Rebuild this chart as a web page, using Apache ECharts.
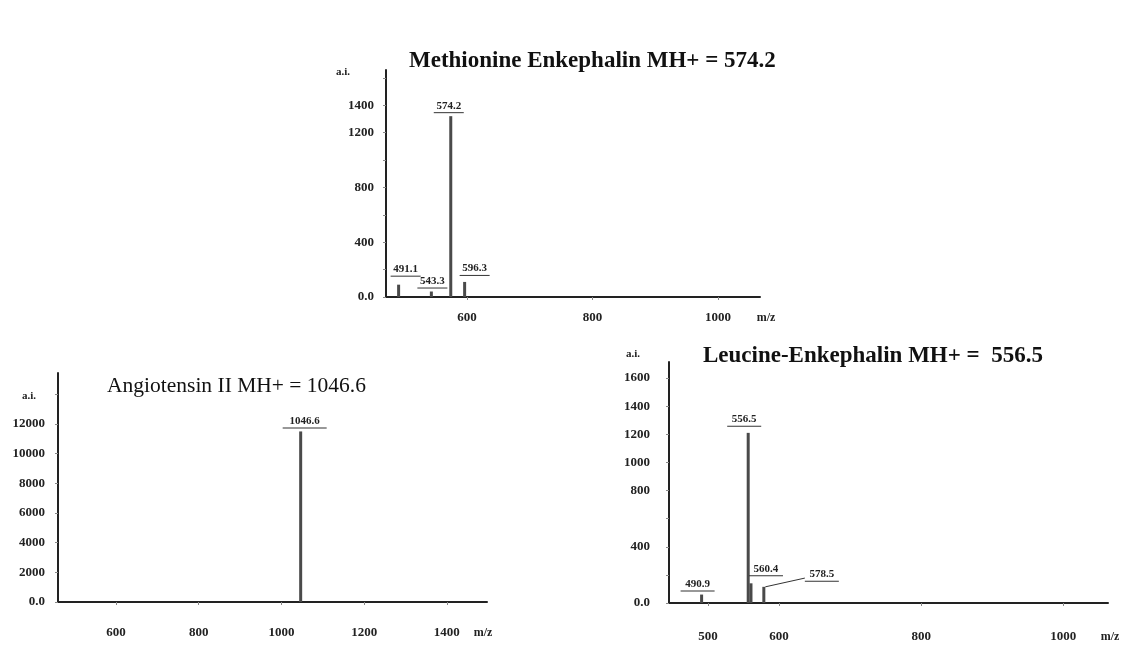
<!DOCTYPE html>
<html>
<head>
<meta charset="utf-8">
<script src="https://cdn.jsdelivr.net/npm/echarts@6/dist/echarts.min.js"></script>
<style>
html,body{margin:0;padding:0;background:#fff;}
#chart{width:1138px;height:645px;}
</style>
</head>
<body>
<div id="chart"></div>
<script>
// ---- Data ----
const metTitle = 'Methionine Enkephalin MH+ = 574.2';
const metMz = [491.1, 543.3, 574.2, 596.3];
const metInt = [90, 40, 1320, 110];
const metPeakLabels = ['491.1', '543.3', '574.2', '596.3'];
const metYTicks = [0, 400, 800, 1200, 1400];
const metXTicks = [600, 800, 1000];

const angTitle = 'Angiotensin II MH+ = 1046.6';
const angMz = [1046.6];
const angInt = [11500];
const angPeakLabels = ['1046.6'];
const angYTicks = [0, 2000, 4000, 6000, 8000, 10000, 12000];
const angXTicks = [600, 800, 1000, 1200, 1400];

const leuTitle = 'Leucine-Enkephalin MH+ =  556.5';
const leuMz = [490.9, 556.5, 560.4, 578.5];
const leuInt = [60, 1210, 140, 115];
const leuPeakLabels = ['490.9', '556.5', '560.4', '578.5'];
const leuYTicks = [0, 400, 800, 1000, 1200, 1400, 1600];
const leuXTicks = [500, 600, 800, 1000];

// ---- Styling ----
const FONT = '"Liberation Serif", "DejaVu Serif", serif';
const INK = '#222';
const PEAK = '#4a4a4a';

function yFmt(v) { return v === 0 ? '0.0' : String(v); }
function xFmt(v) { return String(v); }

function makeAxes(cfg) {
  const x = {
    type: 'value', gridIndex: cfg.g, min: cfg.xmin, max: cfg.xmax,
    name: 'm/z', nameLocation: 'end', nameGap: cfg.nameGapX,
    nameTextStyle: {fontFamily: FONT, fontSize: 12, fontWeight: 'bold', color: INK, verticalAlign: 'top', align: 'center', padding: [cfg.xLabelMargin + 1, 0, 0, 0]},
    axisLine: {show: true, lineStyle: {color: INK, width: 2}},
    axisTick: {show: true, length: 3, customValues: cfg.xTicks, lineStyle: {color: '#888'}},
    axisLabel: {customValues: cfg.xTicks, formatter: xFmt, margin: cfg.xLabelMargin, fontFamily: FONT, fontSize: 13, fontWeight: 'bold', color: INK},
    splitLine: {show: false}
  };
  const y = {
    type: 'value', gridIndex: cfg.g, min: 0, max: cfg.ymax,
    name: 'a.i.', nameLocation: 'end', nameGap: cfg.nameGapY,
    nameTextStyle: {fontFamily: FONT, fontSize: 11, fontWeight: 'bold', color: INK, align: 'right', verticalAlign: 'middle', padding: [0, cfg.namePadY, 0, 0]},
    axisLine: {show: true, lineStyle: {color: INK, width: 2}},
    axisTick: {show: true, length: 3, customValues: cfg.yMinor, lineStyle: {color: '#888'}},
    axisLabel: {customValues: cfg.yTicks, margin: cfg.yLabelMargin, formatter: yFmt, fontFamily: FONT, fontSize: 13, fontWeight: 'bold', color: INK},
    splitLine: {show: false}
  };
  return {x, y};
}

function peakSeries(idx, mz, inten, labels, underline, offsets, guideIdx) {
  return {
    type: 'bar', xAxisIndex: idx, yAxisIndex: idx, barWidth: 3,
    itemStyle: {color: PEAK},
    data: mz.map((m, i) => ({value: [m, inten[i]], labelLine: {show: i === guideIdx}})),
    label: {
      show: true, position: 'top', distance: 3,
      formatter: p => '{t|' + labels[p.dataIndex] + '}\n{u|}',
      rich: {
        t: {fontFamily: FONT, fontSize: 11, fontWeight: 'bold', color: INK, align: 'center', lineHeight: 13},
        u: {width: underline, height: 1, backgroundColor: '#333', align: 'center'}
      }
    },
    labelLine: {show: false, lineStyle: {color: '#333', width: 1}},
    labelLayout: p => ({dx: offsets[p.dataIndex][0], dy: offsets[p.dataIndex][1]})
  };
}

const a0 = makeAxes({g: 0, xmin: 471, xmax: 1067, ymax: 1657, xTicks: metXTicks, yTicks: metYTicks,
  yMinor: [0, 200, 400, 600, 800, 1000, 1200, 1400, 1600], xLabelMargin: 14, yLabelMargin: 12,
  nameGapX: 6, nameGapY: -2, namePadY: 36});
const a1 = makeAxes({g: 1, xmin: 460, xmax: 1497, ymax: 15440, xTicks: angXTicks, yTicks: angYTicks,
  yMinor: [0, 2000, 4000, 6000, 8000, 10000, 12000, 14000], xLabelMargin: 24, yLabelMargin: 13,
  nameGapX: -4, nameGapY: -23, namePadY: 22});
const a2 = makeAxes({g: 2, xmin: 445, xmax: 1063, ymax: 1714, xTicks: leuXTicks, yTicks: leuYTicks,
  yMinor: [0, 200, 400, 600, 800, 1000, 1200, 1400, 1600], xLabelMargin: 27, yLabelMargin: 19,
  nameGapX: 2, nameGapY: 8, namePadY: 29});

const option = {
  backgroundColor: '#fff',
  animation: false,
  title: [
    {text: metTitle, left: 404, top: 45, textStyle: {fontFamily: FONT, fontSize: 23, fontWeight: 'bold', color: '#111'}},
    {text: angTitle, left: 102, top: 370, textStyle: {fontFamily: FONT, fontSize: 21.5, fontWeight: 'normal', color: '#111'}},
    {text: leuTitle, left: 698, top: 340, textStyle: {fontFamily: FONT, fontSize: 23, fontWeight: 'bold', color: '#111'}}
  ],
  grid: [
    {left: 386, top: 70, width: 374, height: 227},
    {left: 58, top: 373, width: 429, height: 229},
    {left: 669, top: 362, width: 439, height: 241}
  ],
  xAxis: [a0.x, a1.x, a2.x],
  yAxis: [a0.y, a1.y, a2.y],
  series: [
    peakSeries(0, metMz, metInt, metPeakLabels, 30, [[7, -5], [1, 0], [-2, 0], [10, -3]], -1),
    peakSeries(1, angMz, angInt, angPeakLabels, 44, [[4, 0]], -1),
    peakSeries(2, leuMz, leuInt, leuPeakLabels, 34, [[-4, 0], [-4, -3], [15, -4], [58, -2]], 3)
  ]
};

const chart = echarts.init(document.getElementById('chart'), null, {renderer: 'canvas'});
chart.setOption(option);
</script>
</body>
</html>
